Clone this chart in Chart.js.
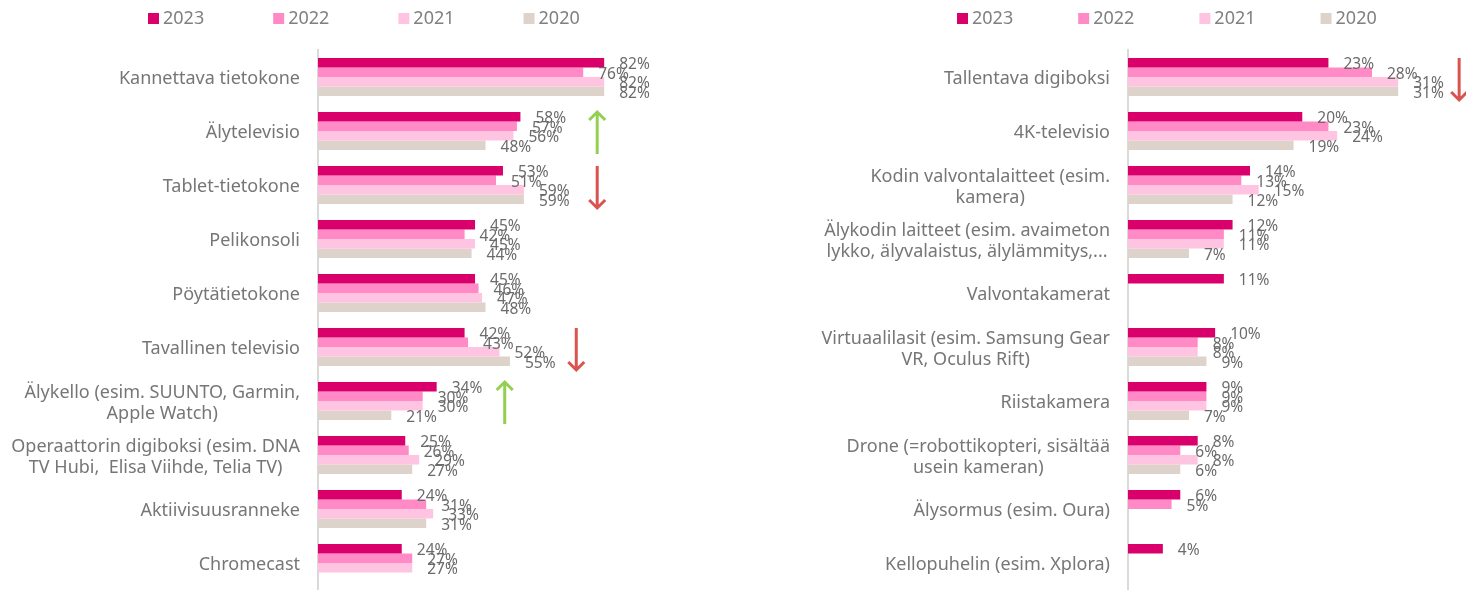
<!DOCTYPE html>
<html>
<head>
<meta charset="utf-8">
<script src="https://cdn.jsdelivr.net/npm/chart.js@4.4.1/dist/chart.umd.min.js"></script>
<style>
  html, body { margin: 0; padding: 0; background: #fff; }
  .wrap { position: absolute; top: 0; width: 733px; height: 590px; }
  #left { left: 0; }
  #right { left: 733px; }
</style>
</head>
<body>
<div class="wrap" id="left"><canvas id="chart-left"></canvas></div>
<div class="wrap" id="right"><canvas id="chart-right"></canvas></div>
<script>
var years = ["2023", "2022", "2021", "2020"];

var leftCategories = [
    "Kannettava tietokone",
    "Älytelevisio",
    "Tablet-tietokone",
    "Pelikonsoli",
    "Pöytätietokone",
    "Tavallinen televisio",
    ["Älykello (esim. SUUNTO, Garmin,", "Apple Watch)"],
    ["Operaattorin digiboksi (esim. DNA", "TV Hubi,  Elisa Viihde, Telia TV)"],
    "Aktiivisuusranneke",
    "Chromecast"
];
var left2023 = [82, 58, 53, 45, 45, 42, 34, 25, 24, 24];
var left2022 = [76, 57, 51, 42, 46, 43, 30, 26, 31, 27];
var left2021 = [82, 56, 59, 45, 47, 52, 30, 29, 33, 27];
var left2020 = [82, 48, 59, 44, 48, 55, 21, 27, 31, null];

var rightCategories = [
    "Tallentava digiboksi",
    "4K-televisio",
    ["Kodin valvontalaitteet (esim.", "kamera)"],
    ["Älykodin laitteet (esim. avaimeton", "lykko, älyvalaistus, älylämmitys,..."],
    "Valvontakamerat",
    ["Virtuaalilasit (esim. Samsung Gear", "VR, Oculus Rift)"],
    "Riistakamera",
    ["Drone (=robottikopteri, sisältää", "usein kameran)"],
    "Älysormus (esim. Oura)",
    "Kellopuhelin (esim. Xplora)"
];
var right2023 = [23, 20, 14, 12, 11, 10, 9, 8, 6, 4];
var right2022 = [28, 23, 13, 11, null, 8, 9, 6, 5, null];
var right2021 = [31, 24, 15, 11, null, 8, 9, 8, null, null];
var right2020 = [31, 19, 12, 7, null, 9, 7, 6, null, null];

// trend arrows: category index, x position in %, direction
var leftArrows = [
    {cat: 1, at: 80, dir: 'up'},
    {cat: 2, at: 80, dir: 'down'},
    {cat: 5, at: 74, dir: 'down'},
    {cat: 6, at: 53.5, dir: 'up'}
];
var rightArrows = [
    {cat: 0, at: 38, dir: 'down'}
];

var yearColors = ['#d9006c', '#ff8ac5', '#ffc4e1', '#ddd3ca'];
var fontFamily = '"Noto Sans", "Open Sans", sans-serif';

// legend drawn by hand so the items can be spaced out like the original
var topLegend = {
    id: 'topLegend',
    afterDraw: function(chart, args, opts) {
        var ctx = chart.ctx;
        var x = opts.start;
        ctx.save();
        ctx.font = '18px ' + fontFamily;
        ctx.textBaseline = 'middle';
        ctx.textAlign = 'left';
        chart.data.datasets.forEach(function(ds) {
            ctx.fillStyle = ds.backgroundColor;
            ctx.fillRect(x, 13, 11, 11);
            ctx.fillStyle = '#808080';
            ctx.fillText(ds.label, x + 15, 19);
            x += 15 + ctx.measureText(ds.label).width + opts.gap;
        });
        ctx.restore();
    }
};

// category names, block right aligned, lines centred on each other
var categoryLabels = {
    id: 'categoryLabels',
    afterDraw: function(chart) {
        var ctx = chart.ctx;
        var yScale = chart.scales.y;
        var right = chart.chartArea.left - 18;
        ctx.save();
        ctx.font = '18px ' + fontFamily;
        ctx.fillStyle = '#767676';
        ctx.textAlign = 'center';
        ctx.textBaseline = 'middle';
        chart.data.labels.forEach(function(label, i) {
            var lines = [].concat(label);
            var widest = 0;
            lines.forEach(function(l) { widest = Math.max(widest, ctx.measureText(l).width); });
            var cy = yScale.getPixelForValue(i) + 2;
            lines.forEach(function(l, k) {
                ctx.fillText(l, right - widest / 2, cy + (k - (lines.length - 1) / 2) * 21);
            });
        });
        ctx.restore();
    }
};

var valueLabels = {
    id: 'valueLabels',
    afterDatasetsDraw: function(chart) {
        var ctx = chart.ctx;
        ctx.save();
        ctx.font = '15.5px ' + fontFamily;
        ctx.fillStyle = '#6b6b6b';
        ctx.textAlign = 'left';
        ctx.textBaseline = 'middle';
        chart.data.datasets.forEach(function(ds, i) {
            chart.getDatasetMeta(i).data.forEach(function(bar, j) {
                var v = ds.data[j];
                if (v === null || v === undefined) return;
                ctx.fillText(v + '%', bar.x + 15, bar.y + 2);
            });
        });
        ctx.restore();
    }
};

var trendArrows = {
    id: 'trendArrows',
    afterDraw: function(chart, args, opts) {
        var ctx = chart.ctx;
        ctx.save();
        ctx.lineWidth = 3;
        (opts.items || []).forEach(function(a) {
            var x = chart.scales.x.getPixelForValue(a.at);
            var cy = chart.scales.y.getPixelForValue(a.cat) + 2;
            var up = a.dir === 'up';
            var tip = up ? cy - 21 : cy + 21;
            var tail = up ? cy + 21 : cy - 21;
            var head = up ? 8 : -8;
            ctx.strokeStyle = up ? '#92d050' : '#d9534f';
            ctx.beginPath();
            ctx.moveTo(x, tail);
            ctx.lineTo(x, tip);
            ctx.moveTo(x - 8, tip + head);
            ctx.lineTo(x, tip);
            ctx.lineTo(x + 8, tip + head);
            ctx.stroke();
        });
        ctx.restore();
    }
};

function makeDatasets(series) {
    return series.map(function(values, i) {
        return {
            label: years[i],
            data: values,
            backgroundColor: yearColors[i],
            borderWidth: 0,
            categoryPercentage: 0.7,
            barPercentage: 1.0
        };
    });
}

function drawBarChart(canvasId, labels, series, opts) {
    var ctx = document.getElementById(canvasId).getContext('2d');
    return new Chart(ctx, {
        type: 'bar',
        data: {
            labels: labels,
            datasets: makeDatasets(series)
        },
        plugins: [topLegend, categoryLabels, valueLabels, trendArrows],
        options: {
            indexAxis: 'y',
            responsive: true,
            maintainAspectRatio: false,
            animation: false,
            layout: {padding: {top: 50, right: opts.padRight, bottom: 0, left: 0}},
            scales: {
                x: {display: false, min: 0, max: opts.max},
                y: {
                    grid: {display: false},
                    border: {color: '#d9d9d9', width: 2},
                    ticks: {display: false},
                    afterFit: function(scale) { scale.width = opts.axisLeft; }
                }
            },
            plugins: {
                legend: {display: false},
                tooltip: {enabled: false},
                topLegend: {start: opts.legendStart, gap: opts.legendGap},
                trendArrows: {items: opts.arrows}
            }
        }
    });
}

drawBarChart('chart-left', leftCategories, [left2023, left2022, left2021, left2020],
    {max: 100, padRight: 66, axisLeft: 318, legendStart: 148, legendGap: 69, arrows: leftArrows});
drawBarChart('chart-right', rightCategories, [right2023, right2022, right2021, right2020],
    {max: 35, padRight: 33, axisLeft: 395, legendStart: 224, legendGap: 65, arrows: rightArrows});
</script>
</body>
</html>
